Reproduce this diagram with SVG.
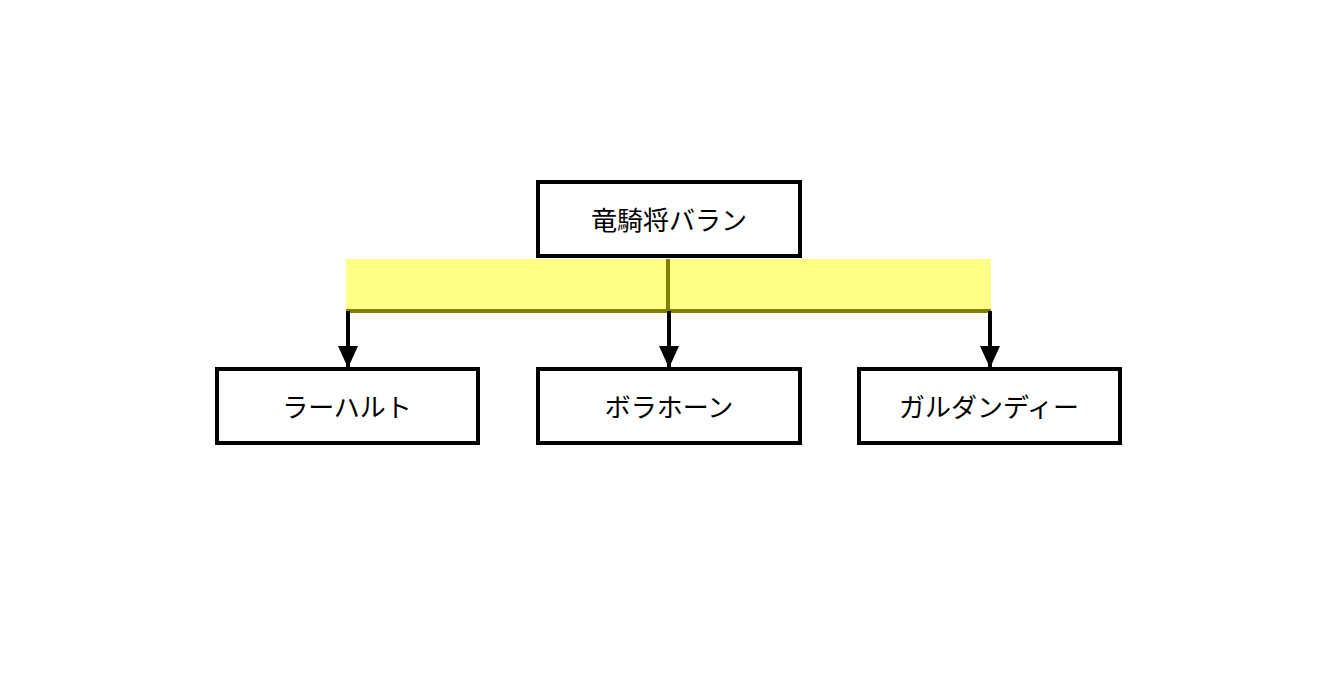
<svg xmlns="http://www.w3.org/2000/svg" width="1337" height="700" viewBox="0 0 1337 700">
<style>
.box{fill:#ffffff;stroke:#000000;stroke-width:4}
.lbl{font-family:"Noto Sans CJK JP","Noto Sans",sans-serif;font-size:26px;fill:#000000;text-anchor:middle;dominant-baseline:central}
.arr{stroke:#000000;stroke-width:4;fill:none}
.olive{stroke:#808000;stroke-width:4;fill:none}
</style>
<defs>
<marker id="ah2" viewBox="0 0 22 20" refX="22" refY="10" markerWidth="22" markerHeight="20" orient="auto" markerUnits="userSpaceOnUse">
<path d="M0,0 L22,10 L0,20 Z" fill="#000000"/>
</marker>
</defs>
<rect width="1337" height="700" fill="#ffffff"/>
<g id="connectors">
<rect x="346" y="259" width="645" height="52" fill="#ffff88"/>
<line class="olive" x1="346" y1="311" x2="991" y2="311"/>
<line class="olive" x1="668" y1="259" x2="668" y2="311"/>
<line class="arr" x1="348" y1="311" x2="348" y2="368" marker-end="url(#ah2)"/>
<line class="arr" x1="669" y1="311" x2="669" y2="368" marker-end="url(#ah2)"/>
<line class="arr" x1="990" y1="311" x2="990" y2="368" marker-end="url(#ah2)"/>
</g>
<g id="node-baran">
<rect class="box" x="538" y="182" width="262" height="74"/>
<text class="lbl" x="669" y="218">竜騎将バラン</text>
</g>
<g id="node-laharl">
<rect class="box" x="217" y="369" width="261" height="74"/>
<text class="lbl" x="347" y="405">ラーハルト</text>
</g>
<g id="node-borahorn">
<rect class="box" x="538" y="369" width="262" height="74"/>
<text class="lbl" x="669" y="405">ボラホーン</text>
</g>
<g id="node-galdandy">
<rect class="box" x="859" y="369" width="261" height="74"/>
<text class="lbl" x="989" y="405">ガルダンディー</text>
</g>
</svg>
